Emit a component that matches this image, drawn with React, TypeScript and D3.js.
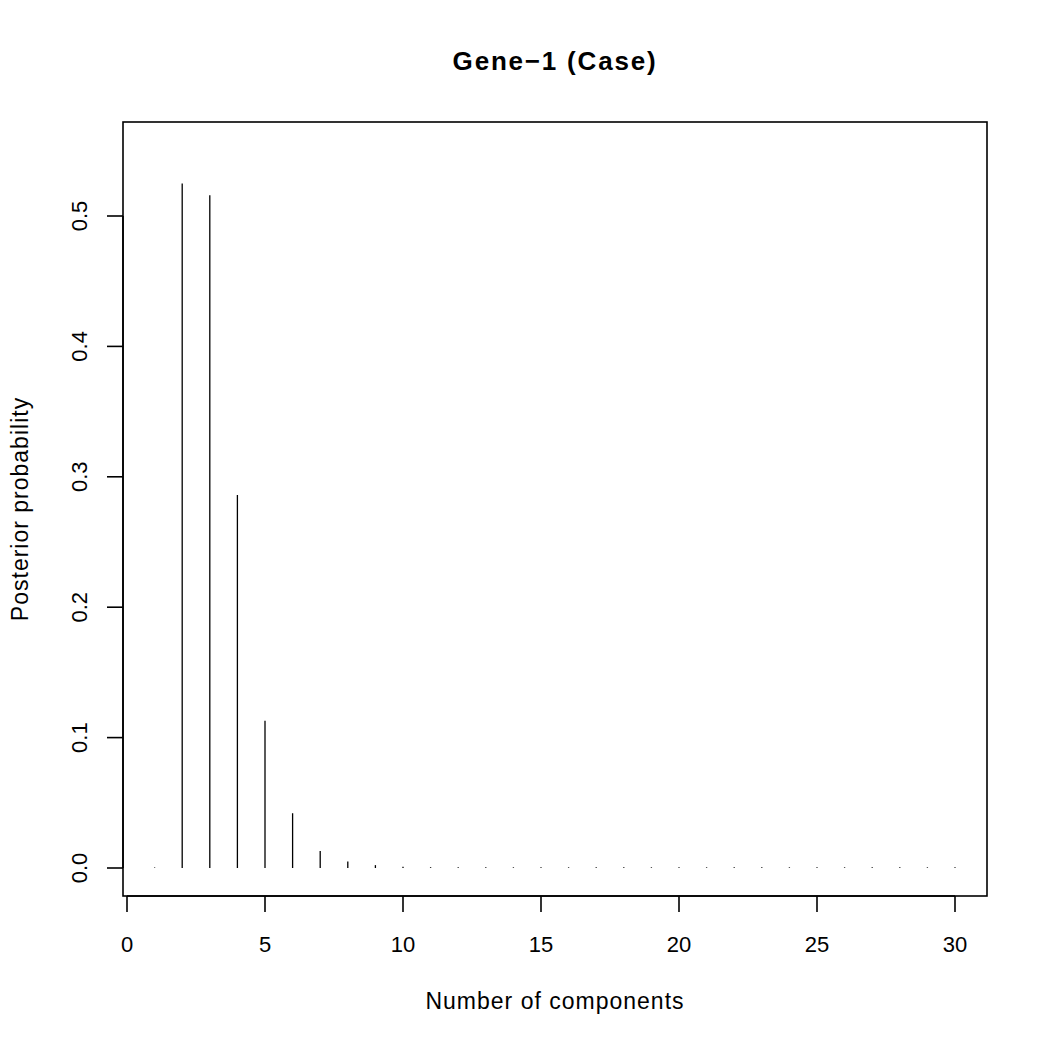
import React from "react";
import * as d3 from "d3";

const components: number[] = Array.from({ length: 30 }, (_, i) => i + 1);
const posterior: number[] = [
  0.0004, 0.525, 0.516, 0.286, 0.113, 0.042, 0.013, 0.005, 0.0022, 0.001,
  0.0006, 0.0005, 0.0005, 0.0005, 0.0005, 0.0005, 0.0005, 0.0005, 0.0005, 0.0005,
  0.0005, 0.0005, 0.0005, 0.0005, 0.0005, 0.0005, 0.0005, 0.0005, 0.0005, 0.0005,
];
const xTicks: number[] = [0, 5, 10, 15, 20, 25, 30];
const yTicks: number[] = [0.0, 0.1, 0.2, 0.3, 0.4, 0.5];
const title = "Gene\u22121 (Case)";
const xLabel = "Number of components";
const yLabel = "Posterior probability";

export default function App() {
  const W = 1050, H = 1050;
  const box = { left: 123, right: 987, top: 122, bottom: 896 };
  const x = d3.scaleLinear().domain([0, 30]).range([127, 955]);
  const y = d3.scaleLinear().domain([0, 0.5]).range([868, 216]);
  const font = "'Liberation Sans', Arial, Helvetica, sans-serif";
  const tickLen = 16;
  return (
    <svg width={W} height={H} style={{ position: "absolute", left: 0, top: 0, background: "#fff" }} fontFamily={font}>
      <rect x={0} y={0} width={W} height={H} fill="#fff" />
      <text x={(box.left + box.right) / 2} y={70} textAnchor="middle" fontSize={26} fontWeight="bold" letterSpacing={1.8}>{title}</text>
      {components.map((c, i) => (
        <line key={c} x1={x(c)} x2={x(c)} y1={y(0)} y2={y(posterior[i])} stroke="#000" strokeWidth={1.3} strokeLinecap="butt" />
      ))}
      <rect x={box.left} y={box.top} width={box.right - box.left} height={box.bottom - box.top} fill="none" stroke="#000" strokeWidth={1.6} />
      <line x1={x(0)} x2={x(30)} y1={box.bottom} y2={box.bottom} stroke="#000" strokeWidth={1.6} />
      {xTicks.map((t) => (
        <g key={t}>
          <line x1={x(t)} x2={x(t)} y1={box.bottom} y2={box.bottom + tickLen} stroke="#000" strokeWidth={1.6} />
          <text x={x(t)} y={952} textAnchor="middle" fontSize={22}>{t}</text>
        </g>
      ))}
      <text x={(box.left + box.right) / 2} y={1009} textAnchor="middle" fontSize={23} letterSpacing={1}>{xLabel}</text>
      <line x1={box.left} x2={box.left} y1={y(0)} y2={y(0.5)} stroke="#000" strokeWidth={1.6} />
      {yTicks.map((t) => (
        <g key={t}>
          <line x1={box.left} x2={box.left - tickLen} y1={y(t)} y2={y(t)} stroke="#000" strokeWidth={1.6} />
          <text transform={`translate(87,${y(t)}) rotate(-90)`} textAnchor="middle" fontSize={22}>{t.toFixed(1)}</text>
        </g>
      ))}
      <text transform={`translate(28,${(box.top + box.bottom) / 2}) rotate(-90)`} textAnchor="middle" fontSize={23} letterSpacing={1}>{yLabel}</text>
    </svg>
  );
}
